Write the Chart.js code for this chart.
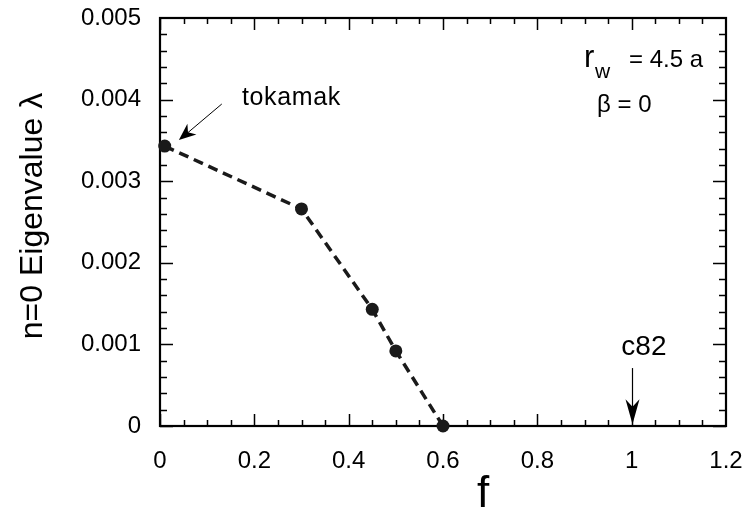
<!DOCTYPE html>
<html>
<head>
<meta charset="utf-8">
<script src="https://cdn.jsdelivr.net/npm/chart.js@4/dist/chart.umd.min.js"></script>
<style>
  html, body { margin: 0; padding: 0; background: #fff; }
  #wrap { width: 750px; height: 514px; }
</style>
</head>
<body>
<div id="wrap"><canvas id="c" width="750" height="514"></canvas></div>
<script>
// ---- data ----
const fValues = [0.01, 0.30, 0.45, 0.50, 0.60];
const lambdaValues = [0.00343, 0.00266, 0.00143, 0.00092, 0.0];

const xTickValues = [0, 0.2, 0.4, 0.6, 0.8, 1.0, 1.2];
const xTickLabels = ['0', '0.2', '0.4', '0.6', '0.8', '1', '1.2'];
const yTickValues = [0, 0.001, 0.002, 0.003, 0.004, 0.005];
const yTickLabels = ['0', '0.001', '0.002', '0.003', '0.004', '0.005'];
const xMinorPerMajor = 4;   // minor step 0.05
const yMinorPerMajor = 5;   // minor step 0.0002

const xTitle = 'f';
const yTitle = 'n=0 Eigenvalue \u03BB';

const FONT = '"Liberation Sans", Arial, Helvetica, sans-serif';
Chart.defaults.font.family = FONT;
Chart.defaults.color = '#000';

function arrowHead(ctx, x1, y1, x2, y2, len, half) {
  const ang = Math.atan2(y2 - y1, x2 - x1);
  const c = Math.cos(ang), s = Math.sin(ang);
  const bx = x2 - c * len, by = y2 - s * len;
  const nx = x2 - c * len * 0.7, ny = y2 - s * len * 0.7;
  ctx.beginPath();
  ctx.moveTo(x2, y2);
  ctx.lineTo(bx - s * half, by + c * half);
  ctx.lineTo(nx, ny);
  ctx.lineTo(bx + s * half, by - c * half);
  ctx.closePath();
  ctx.fill();
}

const framePlugin = {
  id: 'frame',
  beforeDatasetsDraw(chart) {
    const { ctx, chartArea: a, scales: { x, y } } = chart;
    ctx.save();
    ctx.strokeStyle = '#000';
    ctx.lineWidth = 1.5;
    for (let i = 0; i < xTickValues.length - 1; i++) {
      const v0 = xTickValues[i], v1 = xTickValues[i + 1];
      for (let k = 0; k < xMinorPerMajor; k++) {
        const v = v0 + (v1 - v0) * k / xMinorPerMajor;
        const px = Math.round(x.getPixelForValue(v)) + 0.5;
        const L = k === 0 ? 12 : 6;
        ctx.beginPath();
        ctx.moveTo(px, a.bottom); ctx.lineTo(px, a.bottom - L);
        ctx.moveTo(px, a.top); ctx.lineTo(px, a.top + L);
        ctx.stroke();
      }
    }
    for (let i = 0; i < yTickValues.length - 1; i++) {
      const v0 = yTickValues[i], v1 = yTickValues[i + 1];
      for (let k = 0; k < yMinorPerMajor; k++) {
        const v = v0 + (v1 - v0) * k / yMinorPerMajor;
        const py = Math.round(y.getPixelForValue(v)) + 0.5;
        const L = k === 0 ? 13 : 7;
        ctx.beginPath();
        ctx.moveTo(a.left, py); ctx.lineTo(a.left + L, py);
        ctx.moveTo(a.right, py); ctx.lineTo(a.right - L, py);
        ctx.stroke();
      }
    }
    ctx.lineWidth = 2.2;
    ctx.strokeRect(a.left, a.top, a.right - a.left, a.bottom - a.top);
    ctx.restore();
  },
  afterDraw(chart) {
    const { ctx, chartArea: a, scales: { x, y } } = chart;
    ctx.save();
    ctx.fillStyle = '#000';
    ctx.strokeStyle = '#000';
    // axis titles
    ctx.font = '44px ' + FONT;
    ctx.textAlign = 'center';
    ctx.textBaseline = 'alphabetic';
    ctx.fillText(xTitle, x.getPixelForValue(0.685), 507);
    ctx.save();
    ctx.translate(42, (a.top + a.bottom) / 2 - 6);
    ctx.rotate(-Math.PI / 2);
    ctx.font = '32px ' + FONT;
    ctx.fillText(yTitle, 0, 0);
    ctx.restore();

    // tokamak annotation
    ctx.textAlign = 'left';
    ctx.font = '25px ' + FONT;
    if ('letterSpacing' in ctx) ctx.letterSpacing = '0.6px';
    ctx.fillText('tokamak', x.getPixelForValue(0.174), y.getPixelForValue(0.003934));
    if ('letterSpacing' in ctx) ctx.letterSpacing = '0px';
    const t1x = x.getPixelForValue(0.131), t1y = y.getPixelForValue(0.003946);
    const t2x = x.getPixelForValue(0.040), t2y = y.getPixelForValue(0.003505);
    ctx.lineWidth = 1;
    ctx.beginPath(); ctx.moveTo(t1x, t1y); ctx.lineTo(t2x + 8, t2y - 6.5); ctx.stroke();
    arrowHead(ctx, t1x, t1y, t2x, t2y, 17, 7);

    // c82 annotation
    ctx.textAlign = 'center';
    ctx.font = '28px ' + FONT;
    ctx.fillText('c82', x.getPixelForValue(1.026), y.getPixelForValue(0.00087));
    const cx = Math.round(x.getPixelForValue(1.0)) + 0.5;
    const c1y = y.getPixelForValue(0.00071), c2y = y.getPixelForValue(0.00002);
    ctx.lineWidth = 1.2;
    ctx.beginPath(); ctx.moveTo(cx, c1y); ctx.lineTo(cx, c2y - 10); ctx.stroke();
    arrowHead(ctx, cx, c1y, cx, c2y, 25, 7);

    // r_w = 4.5 a
    ctx.textAlign = 'left';
    const baseR = y.getPixelForValue(0.0044);
    ctx.font = '31px ' + FONT;
    ctx.fillText('r', 584, baseR);
    ctx.font = '21px ' + FONT;
    ctx.fillText('w', 595, baseR + 11);
    ctx.font = '24px ' + FONT;
    ctx.fillText('= 4.5 a', 629, baseR);
    ctx.fillText('\u03B2 = 0', 597, y.getPixelForValue(0.00385));
    ctx.restore();
  }
};

new Chart(document.getElementById('c'), {
  type: 'scatter',
  data: {
    datasets: [{
      data: fValues.map((f, i) => ({ x: f, y: lambdaValues[i] })),
      showLine: true,
      borderColor: '#1a1a1a',
      borderWidth: 3.5,
      borderDash: [10, 6],
      pointRadius: 6.5,
      pointHoverRadius: 6.5,
      pointBackgroundColor: '#1a1a1a',
      pointBorderColor: '#1a1a1a',
      pointBorderWidth: 0,
      clip: false
    }]
  },
  options: {
    responsive: false,
    animation: false,
    events: [],
    layout: { padding: { top: 18, right: 24, left: 0, bottom: 0 } },
    plugins: { legend: { display: false }, tooltip: { enabled: false } },
    scales: {
      x: {
        type: 'linear', min: 0, max: 1.2,
        grid: { display: false }, border: { display: false },
        afterBuildTicks: s => { s.ticks = xTickValues.map(v => ({ value: v })); },
        afterFit: s => { s.height = 88; s.paddingLeft = 0; s.paddingRight = 0; },
        ticks: {
          font: { size: 24 }, color: '#000', padding: 13, maxRotation: 0,
          callback: (v, i) => xTickLabels[i]
        }
      },
      y: {
        type: 'linear', min: 0, max: 0.005,
        grid: { display: false }, border: { display: false },
        afterBuildTicks: s => { s.ticks = yTickValues.map(v => ({ value: v })); },
        afterFit: s => { s.width = 160; s.paddingTop = 0; s.paddingBottom = 0; },
        ticks: {
          font: { size: 24 }, color: '#000', padding: 11,
          callback: (v, i) => yTickLabels[i]
        }
      }
    }
  },
  plugins: [framePlugin]
});
</script>
</body>
</html>
